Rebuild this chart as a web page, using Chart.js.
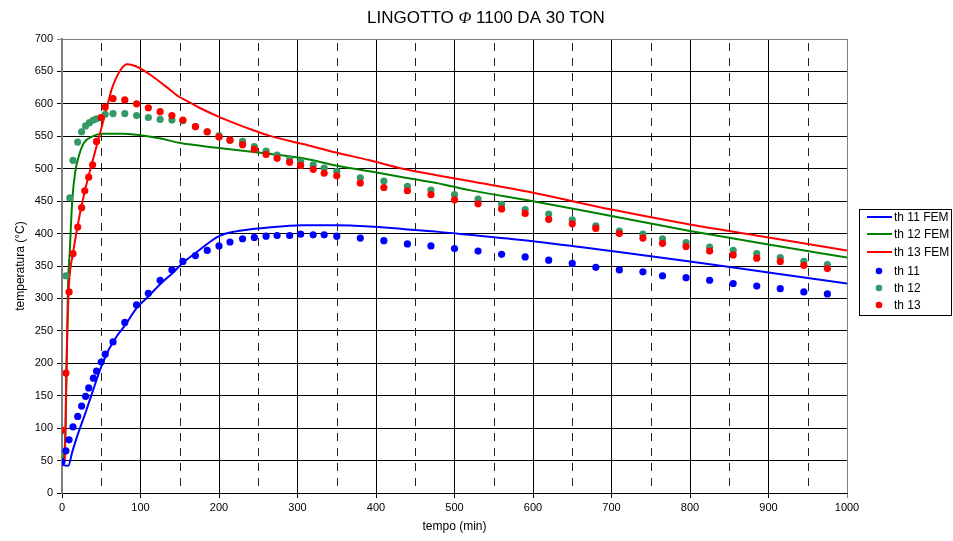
<!DOCTYPE html>
<html>
<head>
<meta charset="utf-8">
<script src="https://cdn.jsdelivr.net/npm/chart.js@4.4.1/dist/chart.umd.min.js"></script>
<style>
  html, body { margin: 0; padding: 0; background: #fff; }
  #wrap { width: 953px; height: 541px; }
</style>
</head>
<body>
<div id="wrap"><canvas id="chart" width="953" height="541"></canvas></div>
<script>
// FEM curves: time (min) / temperature (°C)
const femTime11 = [0, 2, 8, 13, 20, 30, 40, 50, 60, 70, 80, 95, 110, 125, 140, 155, 170, 185, 200, 220, 260, 307, 350, 392, 434, 477, 519, 600, 700, 800, 900, 1000];
const femTemp11 = [47, 43, 42, 63, 90, 124, 160, 195, 222, 242, 258, 285, 303, 322, 338, 356, 370, 384, 396, 403, 409, 413, 413, 411, 407, 403, 398, 388, 373, 357, 340, 323];

const femTime12 = [0, 4, 6.5, 7.5, 10, 13, 17, 22, 28, 39, 51, 77, 98, 124, 149, 200, 264, 307, 349, 392, 434, 477, 519, 600, 700, 800, 900, 1000];
const femTemp12 = [46, 80, 235, 312, 375, 450, 496, 522, 540, 550, 554, 554, 552, 547, 540, 532, 523, 516, 505, 496, 487, 478, 467, 450, 427, 404, 383, 363];

const femTime13 = [0, 3.5, 5.5, 8.5, 14, 21, 28, 39, 47, 56, 64, 75, 83, 94, 111, 132, 149, 160, 175, 200, 242, 264, 307, 349, 392, 434, 477, 519, 600, 700, 800, 900, 1000];
const femTemp13 = [46, 50, 184, 312, 369, 419, 460, 512, 548, 589, 625, 653, 661, 658, 646, 627, 611, 604, 594, 580, 560, 551, 538, 525, 513, 500, 490, 481, 463, 437, 414, 394, 374];

// thermocouple readings
const measTime11 = [0, 5, 9, 14, 20, 25, 30, 34, 40, 44, 50, 55, 65, 80, 95, 110, 125, 140, 154, 170, 185, 200, 214, 230, 245, 260, 274, 290, 304, 320, 334, 350, 380, 410, 440, 470, 500, 530, 560, 590, 620, 650, 680, 710, 740, 765, 795, 825, 855, 885, 915, 945, 975];
const measTemp11 = [48, 65, 82, 102, 118, 134, 149, 162, 177, 188, 202, 214, 233, 263, 290, 308, 328, 344, 357, 366, 374, 381, 387, 392, 394, 396, 397, 397, 399, 398, 398, 396, 393, 389, 384, 381, 377, 373, 368, 364, 359, 354, 348, 344, 341, 335, 332, 328, 323, 319, 315, 310, 307];

const measTime12 = [0, 5, 10, 14, 20, 25, 30, 35, 40, 44, 50, 55, 65, 80, 95, 110, 125, 140, 154, 170, 185, 200, 214, 230, 245, 260, 274, 290, 304, 320, 334, 350, 380, 410, 440, 470, 500, 530, 560, 590, 620, 650, 680, 710, 740, 765, 795, 825, 855, 885, 915, 945, 975];
const measTemp12 = [96, 335, 455, 513, 541, 557, 566, 571, 575, 577, 579, 584, 585, 585, 582, 579, 576, 575, 574, 565, 557, 551, 544, 542, 534, 527, 521, 515, 511, 506, 501, 496, 486, 481, 473, 467, 460, 453, 445, 437, 430, 421, 412, 404, 399, 392, 386, 379, 374, 369, 363, 357, 352];

const measTime13 = [0, 5, 9, 14, 20, 25, 29, 34, 39, 44, 50, 55, 65, 80, 95, 110, 125, 140, 154, 170, 185, 200, 214, 230, 245, 260, 274, 290, 304, 320, 334, 350, 380, 410, 440, 470, 500, 530, 560, 590, 620, 650, 680, 710, 740, 765, 795, 825, 855, 885, 915, 945, 975];
const measTemp13 = [97, 185, 310, 369, 410, 440, 466, 487, 506, 542, 579, 595, 608, 606, 600, 594, 588, 582, 575, 565, 557, 549, 544, 537, 530, 522, 516, 510, 505, 499, 493, 489, 478, 471, 466, 460, 452, 446, 438, 431, 422, 415, 408, 400, 393, 385, 380, 373, 367, 362, 357, 351, 346];

const xTicks = [0, 100, 200, 300, 400, 500, 600, 700, 800, 900, 1000];
const yTicks = [0, 50, 100, 150, 200, 250, 300, 350, 400, 450, 500, 550, 600, 650, 700];

const BLUE = "#0000ff";
const GREEN_LINE = "#008000";
const GREEN_DOT = "#339966";
const RED = "#ff0000";
const FONT = "'Liberation Sans', Arial, sans-serif";

function pairs(xs, ys) {
    return xs.map((x, i) => ({ x: x, y: ys[i] }));
}

function femSet(label, xs, ys, color, order) {
    return {
        label: label,
        data: pairs(xs, ys),
        showLine: true,
        borderColor: color,
        backgroundColor: color,
        borderWidth: 2,
        pointRadius: 0,
        cubicInterpolationMode: "monotone",
        order: order,
        kind: "line"
    };
}

function dotSet(label, xs, ys, color, order) {
    return {
        label: label,
        data: pairs(xs, ys),
        showLine: false,
        backgroundColor: color,
        borderColor: color,
        borderWidth: 0,
        pointRadius: 3.6,
        pointBorderWidth: 0,
        order: order,
        kind: "dot"
    };
}

// dashed verticals half way between the labelled ticks
const halfGrid = {
    id: "halfGrid",
    beforeDatasetsDraw(chart) {
        const { ctx, chartArea, scales } = chart;
        ctx.save();
        ctx.strokeStyle = "#222";
        ctx.lineWidth = 1;
        ctx.setLineDash([8, 7]);
        for (let v = 50; v < 1000; v += 100) {
            const x = Math.round(scales.x.getPixelForValue(v)) + 0.5;
            ctx.beginPath();
            ctx.moveTo(x, chartArea.top + 4);
            ctx.lineTo(x, chartArea.bottom);
            ctx.stroke();
        }
        ctx.restore();
    }
};

// title with an italic Phi
const titleText = {
    id: "titleText",
    afterDraw(chart) {
        const ctx = chart.ctx;
        const parts = [
            { t: "LINGOTTO ", f: "17px " + FONT },
            { t: "Φ", f: "italic 17px 'Liberation Serif', serif" },
            { t: " 1100 DA 30 TON", f: "17px " + FONT }
        ];
        ctx.save();
        let total = 0;
        parts.forEach(p => { ctx.font = p.f; p.w = ctx.measureText(p.t).width; total += p.w; });
        let x = 486 - total / 2;
        ctx.fillStyle = "#000";
        ctx.textBaseline = "alphabetic";
        parts.forEach(p => { ctx.font = p.f; ctx.fillText(p.t, x, 23); x += p.w; });
        ctx.restore();
    }
};

// boxed legend on the right
const boxLegend = {
    id: "boxLegend",
    afterDraw(chart) {
        const ctx = chart.ctx;
        const left = 859.5, top = 209.5, right = 951.5, bottom = 315.5;
        const rows = [217, 234, 252, 271, 288, 305];
        ctx.save();
        ctx.fillStyle = "#fff";
        ctx.fillRect(left, top, right - left, bottom - top);
        ctx.strokeStyle = "#000";
        ctx.lineWidth = 1;
        ctx.strokeRect(left, top, right - left, bottom - top);
        ctx.font = "12px " + FONT;
        ctx.textBaseline = "middle";
        chart.data.datasets.forEach((ds, i) => {
            const y = rows[i];
            if (ds.kind === "line") {
                ctx.strokeStyle = ds.borderColor;
                ctx.lineWidth = 2;
                ctx.beginPath();
                ctx.moveTo(867, y);
                ctx.lineTo(892, y);
                ctx.stroke();
            } else {
                ctx.fillStyle = ds.backgroundColor;
                ctx.beginPath();
                ctx.arc(879, y, 3.3, 0, Math.PI * 2);
                ctx.fill();
            }
            ctx.fillStyle = "#000";
            ctx.fillText(ds.label, 894, y + 0.5);
        });
        ctx.restore();
    }
};

new Chart(document.getElementById("chart"), {
    type: "scatter",
    data: {
        datasets: [
            femSet("th 11 FEM", femTime11, femTemp11, BLUE, 6),
            femSet("th 12 FEM", femTime12, femTemp12, GREEN_LINE, 5),
            femSet("th 13 FEM", femTime13, femTemp13, RED, 4),
            dotSet("th 11", measTime11, measTemp11, BLUE, 3),
            dotSet("th 12", measTime12, measTemp12, GREEN_DOT, 2),
            dotSet("th 13", measTime13, measTemp13, RED, 1)
        ]
    },
    options: {
        responsive: false,
        devicePixelRatio: 1,
        animation: false,
        layout: { padding: { top: 39, right: 106, left: 0, bottom: 0 } },
        plugins: {
            legend: { display: false },
            title: { display: false },
            tooltip: { enabled: false }
        },
        scales: {
            x: {
                type: "linear",
                min: 0,
                max: 1000,
                afterFit(scale) { scale.height = 48; },
                afterBuildTicks(scale) { scale.ticks = xTicks.map(v => ({ value: v })); },
                ticks: {
                    color: "#000",
                    font: { family: FONT, size: 11 },
                    padding: 3,
                    maxRotation: 0,
                    callback: v => String(v)
                },
                grid: {
                    color: c => (c.tick && c.tick.value === 1000 ? "#808080" : "#000"),
                    lineWidth: 1,
                    tickLength: 5
                },
                border: { color: "#000", width: 1 },
                title: {
                    display: true,
                    text: "tempo (min)",
                    color: "#000",
                    font: { family: FONT, size: 12 },
                    padding: { top: 0, bottom: 7 }
                }
            },
            y: {
                min: 0,
                max: 700,
                afterFit(scale) { scale.width = 62; },
                afterBuildTicks(scale) { scale.ticks = yTicks.map(v => ({ value: v })); },
                ticks: {
                    color: "#000",
                    font: { family: FONT, size: 11 },
                    padding: 4,
                    callback: v => String(v)
                },
                grid: {
                    color: c => (c.tick && c.tick.value === 700 ? "#808080" : "#000"),
                    lineWidth: 1,
                    tickLength: 5
                },
                border: { color: "#808080", width: 2 },
                title: {
                    display: true,
                    text: "temperatura (°C)",
                    color: "#000",
                    font: { family: FONT, size: 12 },
                    padding: { top: 13, bottom: 0 }
                }
            }
        }
    },
    plugins: [halfGrid, titleText, boxLegend]
});
</script>
</body>
</html>
